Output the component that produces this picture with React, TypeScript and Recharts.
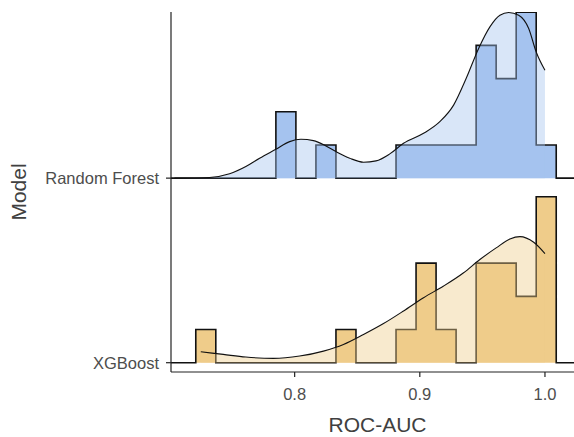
import React from "react";
import { ComposedChart, Area, XAxis, YAxis, Label } from "recharts";

// histogram bins (width 0.016), shared by both models
const binEdges = [
  0.721, 0.737, 0.753, 0.769, 0.785, 0.801, 0.817, 0.833, 0.849, 0.865, 0.881, 0.897, 0.913,
  0.929, 0.945, 0.961, 0.977, 0.993, 1.009,
];
const rfCounts = [0, 0, 0, 0, 2, 0, 1, 0, 0, 0, 1, 1, 1, 1, 4, 3, 5, 1];
const xgbCounts = [1, 0, 0, 0, 0, 0, 0, 1, 0, 0, 1, 3, 1, 0, 3, 3, 2, 5];

// density curves, scaled to count units
const rfDensityX = [
  0.704, 0.732, 0.748, 0.761, 0.772, 0.785, 0.796, 0.805, 0.815, 0.825, 0.833, 0.844, 0.855,
  0.865, 0.876, 0.887, 0.903, 0.916, 0.927, 0.937, 0.947, 0.956, 0.964, 0.971, 0.979, 0.987,
  0.993, 1.0,
];
const rfDensity = [
  0, 0.02, 0.13, 0.35, 0.6, 0.87, 1.1, 1.17, 1.13, 0.97, 0.8, 0.6, 0.48, 0.52, 0.73, 1.05, 1.35,
  1.7, 2.2, 3.0, 3.91, 4.56, 4.91, 4.99, 4.91, 4.51, 3.8, 3.25,
];
const xgbDensityX = [
  0.725, 0.743, 0.761, 0.783, 0.804, 0.823, 0.839, 0.855, 0.871, 0.887, 0.903, 0.919, 0.935,
  0.948, 0.961, 0.972, 0.98, 0.991, 1.0,
];
const xgbDensity = [
  0.33, 0.25, 0.17, 0.13, 0.2, 0.35, 0.55, 0.85, 1.18, 1.56, 1.96, 2.31, 2.71, 3.11, 3.46, 3.73,
  3.8, 3.63, 3.29,
];

const models = ["XGBoost", "Random Forest"];
const xTicks = [0.8, 0.9, 1.0];

const X_MIN = 0.7012;
const X_MAX = 1.0232;
const RF_OFFSET = 5.563; // ridge baseline for Random Forest

const histData = (counts: number[]) => [
  { x: X_MIN, c: 0 },
  ...binEdges.slice(0, -1).map((e, i) => ({ x: e, c: counts[i] })),
  { x: binEdges[binEdges.length - 1], c: 0 },
  { x: X_MAX, c: 0 },
];
const densData = (xs: number[], ys: number[]) => xs.map((x, i) => ({ x, d: ys[i] }));

const rfHist = histData(rfCounts);
const xgbHist = histData(xgbCounts);
const rfDens = densData(rfDensityX, rfDensity);
const xgbDens = densData(xgbDensityX, xgbDensity);

const BLUE = "#a5c3ef";
const GOLD = "#efcc8a";
const font = "'Liberation Sans', Arial, sans-serif";

export default function App() {
  return (
    <div style={{ position: "absolute", left: 0, top: 0, width: 574, height: 437, background: "#fff" }}>
      <ComposedChart width={574} height={437} margin={{ top: 12, right: 0, bottom: 0, left: 0 }} style={{ fontFamily: font }}>
        <XAxis
          type="number"
          dataKey="x"
          domain={[X_MIN, X_MAX]}
          allowDataOverflow
          ticks={xTicks}
          tickFormatter={(v) => v.toFixed(1)}
          height={65}
          tickSize={5}
          tickMargin={11}
          stroke="#222"
          strokeWidth={1.2}
          tick={{ fill: "#4d4d4d", fontSize: 16.5 }}
        >
          <Label value="ROC-AUC" position="insideBottom" offset={5} dx={5} fill="#404040" fontSize={21} />
        </XAxis>
        <YAxis
          type="number"
          domain={[-0.28, 10.57]}
          allowDataOverflow
          ticks={[0, RF_OFFSET]}
          interval={0}
          tickFormatter={(v) => (v === 0 ? models[0] : models[1])}
          width={171}
          tickSize={5}
          tickMargin={7}
          stroke="#222"
          strokeWidth={1.2}
          tick={{ fill: "#4d4d4d", fontSize: 16.5 }}
        >
          <Label value="Model" angle={-90} position="center" dx={-67} fill="#404040" fontSize={21} />
        </YAxis>

        <Area
          data={xgbHist}
          dataKey="c"
          type="stepAfter"
          baseValue={0}
          fill={GOLD}
          fillOpacity={1}
          stroke="#111"
          strokeWidth={1.6}
          isAnimationActive={false}
          dot={false}
          activeDot={false}
        />
        <Area
          data={xgbDens}
          dataKey="d"
          type="monotone"
          baseValue={0}
          fill={GOLD}
          fillOpacity={0.42}
          stroke="#111"
          strokeWidth={1.1}
          isAnimationActive={false}
          dot={false}
          activeDot={false}
        />
        <Area
          data={rfHist}
          dataKey={(d: { c: number }) => d.c + RF_OFFSET}
          type="stepAfter"
          baseValue={RF_OFFSET}
          fill={BLUE}
          fillOpacity={1}
          stroke="#111"
          strokeWidth={1.6}
          isAnimationActive={false}
          dot={false}
          activeDot={false}
        />
        <Area
          data={rfDens}
          dataKey={(d: { d: number }) => d.d + RF_OFFSET}
          type="monotone"
          baseValue={RF_OFFSET}
          fill={BLUE}
          fillOpacity={0.42}
          stroke="#111"
          strokeWidth={1.1}
          isAnimationActive={false}
          dot={false}
          activeDot={false}
        />
      </ComposedChart>
    </div>
  );
}
